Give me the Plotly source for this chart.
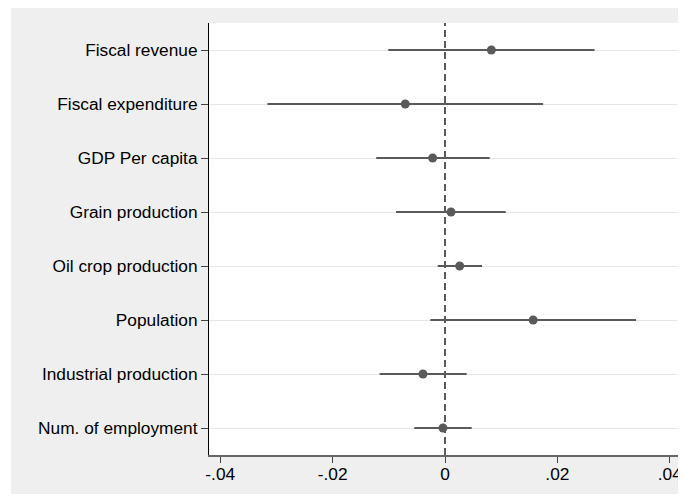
import plotly.graph_objects as go

categories = ["Fiscal revenue", "Fiscal expenditure", "GDP Per capita", "Grain production",
              "Oil crop production", "Population", "Industrial production", "Num. of employment"]
estimates = [0.00825, -0.00707, -0.00220, 0.00107, 0.00261, 0.01569, -0.00392, -0.00036]
ci_low = [-0.0101, -0.0316, -0.01224, -0.00873, -0.0013, -0.00261, -0.01164, -0.00547]
ci_high = [0.0266, 0.01747, 0.00796, 0.01081, 0.0066, 0.0340, 0.00386, 0.00475]
x_tickvals = [-0.04, -0.02, 0, 0.02, 0.04]
x_ticktext = ["-.04", "-.02", "0", ".02", ".04"]

MARK = "#5a5a5a"
BG = "#efefef"

err_plus = [h - e for h, e in zip(ci_high, estimates)]
err_minus = [e - l for e, l in zip(estimates, ci_low)]

fig = go.Figure()
fig.add_trace(go.Scatter(
    x=estimates, y=categories, mode="markers",
    marker=dict(size=9, color=MARK),
    error_x=dict(type="data", array=err_plus, arrayminus=err_minus,
                 color=MARK, thickness=1.8, width=0),
    showlegend=False,
))

fig.add_shape(type="line", xref="x", yref="paper", x0=0, x1=0, y0=0, y1=1,
              line=dict(color=MARK, width=2, dash="7px,4px"), layer="below")
# thin white strip at the left edge of the gray background
fig.add_shape(type="rect", xref="paper", yref="paper", x0=-0.5, x1=-0.4195, y0=-0.2, y1=1.2,
              line=dict(width=0), fillcolor="white", layer="below")

fig.update_layout(
    width=678, height=486,
    margin=dict(l=201, r=5, t=15, b=39),
    paper_bgcolor=BG, plot_bgcolor="white",
    font=dict(family="Liberation Sans, Arial, sans-serif", size=17.3, color="black"),
    xaxis=dict(range=[-0.042, 0.042], tickvals=x_tickvals, ticktext=x_ticktext,
               showgrid=False, zeroline=False, showline=True, linecolor="#666666", linewidth=1.5,
               ticks="outside", ticklen=6, tickcolor="#444444", tickwidth=1,
               ticklabelstandoff=-4, ticklabeloverflow="allow"),
    yaxis=dict(categoryorder="array", categoryarray=categories, range=[7.5, -0.5],
               showgrid=True, gridcolor="#e6e6e6", gridwidth=1, zeroline=False,
               showline=True, linecolor="black", linewidth=1,
               ticks="outside", ticklen=7, tickcolor="#444444", tickwidth=1),
)

fig.write_html("out.html")
